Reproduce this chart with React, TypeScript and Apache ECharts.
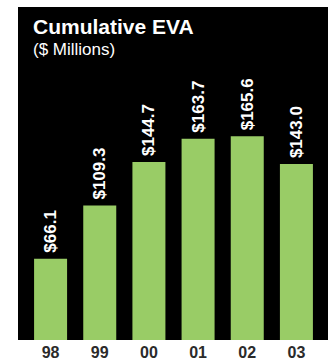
import React, { useEffect, useRef } from "react";
import * as echarts from "echarts";

const categories = ["98", "99", "00", "01", "02", "03"];
const values = [66.1, 109.3, 144.7, 163.7, 165.6, 143.0];
const titleText = "Cumulative EVA";
const subtitleText = "($ Millions)";

export default function App() {
  const ref = useRef<HTMLDivElement>(null);
  useEffect(() => {
    if (!ref.current) return;
    const chart = echarts.init(ref.current, null, { renderer: "svg" });
    const font = "'Liberation Sans', Arial, Helvetica, sans-serif";
    chart.setOption({
      animation: false,
      backgroundColor: "#ffffff",
      graphic: [
        {
          type: "rect",
          z: -10,
          silent: true,
          shape: { x: 18, y: 7, width: 310, height: 333 },
          style: { fill: "#000000" },
        },
        {
          type: "text",
          x: 33,
          y: 26.7,
          style: {
            text: titleText,
            fill: "#ffffff",
            font: `bold 21px ${font}`,
            verticalAlign: "middle",
          },
        },
        {
          type: "text",
          x: 33,
          y: 49,
          style: {
            text: subtitleText,
            fill: "#ffffff",
            font: `normal 17px ${font}`,
            verticalAlign: "middle",
          },
        },
      ],
      grid: { left: 26, right: 10, top: 94, bottom: 20, containLabel: false },
      xAxis: {
        type: "category",
        data: categories,
        axisLine: { show: false },
        axisTick: { show: false },
        axisLabel: {
          color: "#2b2b2b",
          fontSize: 16,
          fontWeight: "bold",
          fontFamily: font,
          margin: 4,
        },
      },
      yAxis: {
        type: "value",
        min: 0,
        max: 200,
        show: false,
        splitLine: { show: false },
      },
      series: [
        {
          type: "bar",
          data: values,
          barWidth: 33,
          itemStyle: { color: "#99cc66" },
          label: {
            show: true,
            position: "top",
            rotate: 90,
            align: "left",
            verticalAlign: "middle",
            distance: 6,
            color: "#ffffff",
            fontSize: 17,
            fontWeight: "bold",
            fontFamily: font,
            formatter: (p: any) => "$" + Number(p.value).toFixed(1),
          },
        },
      ],
    });
    return () => chart.dispose();
  }, []);
  return (
    <div
      ref={ref}
      style={{ position: "fixed", left: 0, top: 0, width: 331, height: 360 }}
    />
  );
}
